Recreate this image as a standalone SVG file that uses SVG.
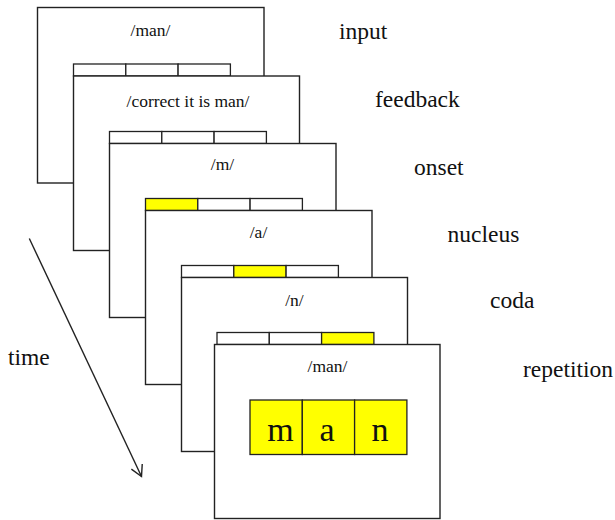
<svg xmlns="http://www.w3.org/2000/svg" width="615" height="520" viewBox="0 0 615 520">
  <defs>
    <style>
      .card { fill: #ffffff; stroke: #222222; stroke-width: 1.4; }
      .cell { fill: #ffffff; stroke: #222222; stroke-width: 1.3; }
      .on { fill: #ffff00; }
      text { font-family: 'Liberation Serif', 'Times New Roman', 'DejaVu Serif', serif; fill: #111111; }
      .small { font-size: 17.5px; text-anchor: middle; }
      .label { font-size: 23.5px; }
      .big { font-size: 34px; text-anchor: middle; }
      .conn { fill: none; stroke: #222222; stroke-width: 1.4; }
    </style>
    <marker id="openArrow" viewBox="0 0 14 14" refX="12" refY="7" markerWidth="14" markerHeight="14" markerUnits="userSpaceOnUse" orient="auto">
      <path d="M1,1 L12,7 L1,13" fill="none" stroke="#222222" stroke-width="1.4"/>
    </marker>
  </defs>

  <rect x="0" y="0" width="615" height="520" fill="#ffffff"/>

  <!-- stacked cards, back to front -->
  <g id="card-input">
    <rect class="card" x="37.5" y="7.5" width="226.5" height="175.5"/>
    <text class="small" x="150.5" y="36" font-family="Liberation Serif, serif">/man/</text>
  </g>

  <g id="card-feedback">
    <rect class="cell" x="73.5" y="64" width="52.3" height="12"/>
    <rect class="cell" x="125.8" y="64" width="52.3" height="12"/>
    <rect class="cell" x="178.1" y="64" width="52.3" height="12"/>
    <rect class="card" x="73.5" y="76" width="226" height="174.5"/>
    <text class="small" x="188" y="107">/correct it is man/</text>
  </g>

  <g id="card-onset">
    <rect class="cell" x="109.5" y="131.5" width="52.3" height="12"/>
    <rect class="cell" x="161.8" y="131.5" width="52.3" height="12"/>
    <rect class="cell" x="214.1" y="131.5" width="52.3" height="12"/>
    <rect class="card" x="109.5" y="143.5" width="226.5" height="174"/>
    <text class="small" x="222.5" y="170">/m/</text>
  </g>

  <g id="card-nucleus">
    <rect class="cell on" x="145.5" y="198.5" width="52.3" height="12"/>
    <rect class="cell" x="197.8" y="198.5" width="52.3" height="12"/>
    <rect class="cell" x="250.1" y="198.5" width="52.3" height="12"/>
    <rect class="card" x="145.5" y="210.5" width="226.5" height="174"/>
    <text class="small" x="258.5" y="237.5">/a/</text>
  </g>

  <g id="card-coda">
    <rect class="cell" x="181.5" y="265.5" width="52.3" height="12"/>
    <rect class="cell on" x="233.8" y="265.5" width="52.3" height="12"/>
    <rect class="cell" x="286.1" y="265.5" width="52.3" height="12"/>
    <rect class="card" x="181.5" y="277.5" width="226" height="174"/>
    <text class="small" x="294.5" y="306">/n/</text>
  </g>

  <g id="card-repetition">
    <rect class="cell" x="217" y="332.5" width="52.3" height="12"/>
    <rect class="cell" x="269.3" y="332.5" width="52.3" height="12"/>
    <rect class="cell on" x="321.6" y="332.5" width="52.3" height="12"/>
    <rect class="card" x="214.5" y="344.5" width="225.5" height="174"/>
    <text class="small" x="327.5" y="372">/man/</text>
    <rect class="cell on" x="250" y="400" width="52.3" height="54.5"/>
    <rect class="cell on" x="302.3" y="400" width="52.3" height="54.5"/>
    <rect class="cell on" x="354.6" y="400" width="52.3" height="54.5"/>
    <text class="big" x="280.5" y="441">m</text>
    <text class="big" x="327" y="441">a</text>
    <text class="big" x="380" y="441">n</text>
  </g>

  <!-- step labels -->
  <g id="labels">
    <text class="label" x="339" y="38.5">input</text>
    <text class="label" x="375" y="107">feedback</text>
    <text class="label" x="414" y="175">onset</text>
    <text class="label" x="447.5" y="241.5">nucleus</text>
    <text class="label" x="490" y="307.5">coda</text>
    <text class="label" x="523" y="376.5">repetition</text>
    <text class="label" x="8" y="365">time</text>
  </g>

  <!-- time axis -->
  <g id="connectors">
    <line class="conn" x1="29.3" y1="238.5" x2="141.5" y2="476.5" marker-end="url(#openArrow)"/>
  </g>
</svg>
